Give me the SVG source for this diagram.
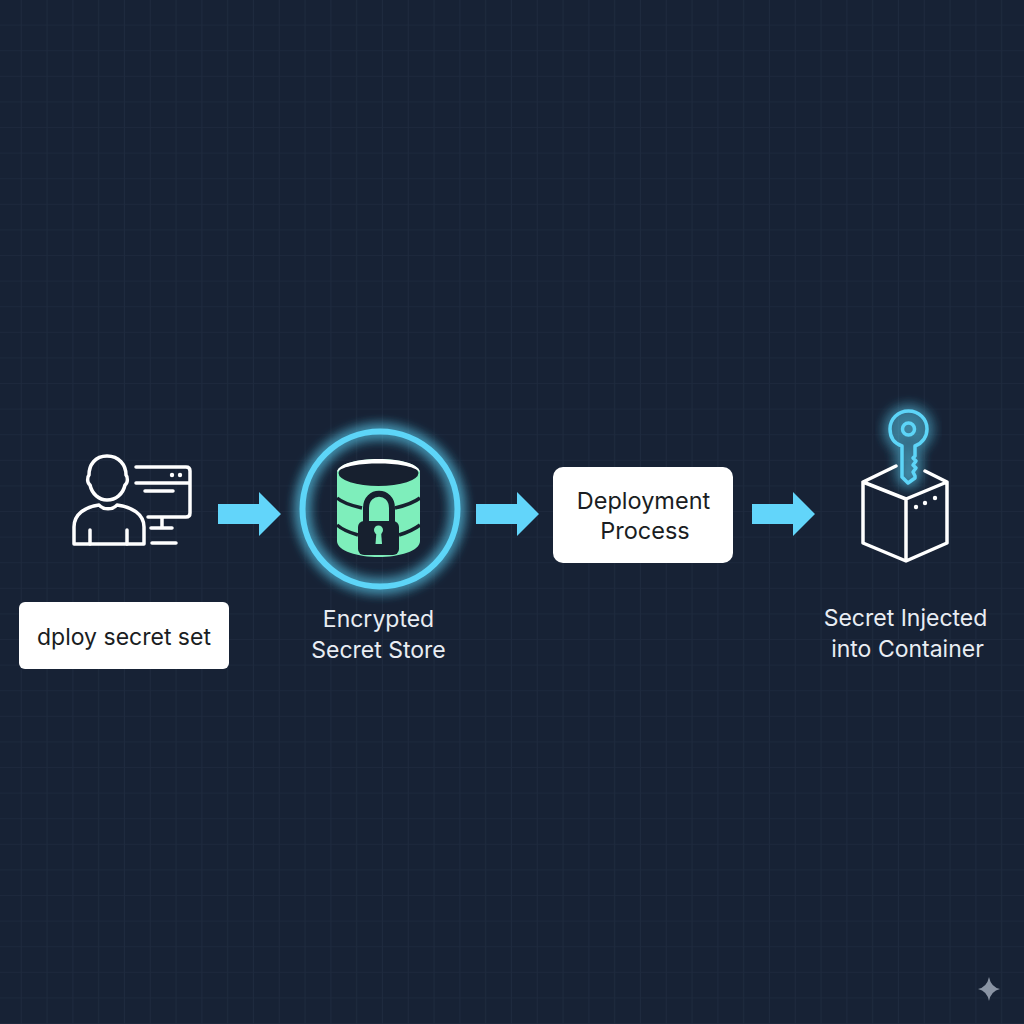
<svg xmlns="http://www.w3.org/2000/svg" width="1024" height="1024" viewBox="0 0 1024 1024">
<style>
.ln{fill:none;stroke:#fff;stroke-width:3.5;stroke-linecap:round;stroke-linejoin:round}
.box{fill:#fff}
.lbl{font-family:"Inter","Liberation Sans",sans-serif;font-size:23px;text-anchor:middle}
.lg{font-size:23.5px}
.dark{fill:#1a1d22}
.light{fill:#e9edf3}
.arrow{fill:#62d5fa}
</style>
<defs>
<pattern id="grid" x="-4" y="0" width="25.8" height="25.6" patternUnits="userSpaceOnUse">
<path d="M25.3 0V25.6M0 25.3H25.8" fill="none" stroke="#1e2a3e" stroke-width="1"/>
</pattern>
<filter id="glow" x="-40%" y="-40%" width="180%" height="180%"><feGaussianBlur stdDeviation="7" result="b"/><feMerge><feMergeNode in="b"/><feMergeNode in="b"/><feMergeNode in="SourceGraphic"/></feMerge></filter>
<path id="arr" d="M0 -10H41V-22L63 0L41 22V10H0Z"/>
</defs>
<rect width="1024" height="1024" fill="#172235"/>
<rect width="1024" height="1024" fill="url(#grid)"/>
<g id="connectors" class="arrow">
<use href="#arr" x="218" y="514"/>
<use href="#arr" x="476" y="514"/>
<use href="#arr" x="752" y="514"/>
</g>
<g id="node-user">
<path class="ln" d="M107 456C95 456 89 465 89 475C87 477 87 483 90 485C92 494 99 500 107 500C116 500 123 494 125 485C128 483 128 477 126 475C126 465 119 456 107 456Z"/>
<path class="ln" d="M74 544V527C74 514 85 507 99 505C103 510 113 510 117 505C132 507 144 514 144 527V544Z"/>
<path class="ln" d="M90 530V544M127 530V544"/>
<path class="ln" d="M136 467H186Q190 467 190 471V513Q190 517 186 517H148M136 483H190M145 491H173M162 517V528M151 528H172M152 543H176"/>
<circle cx="172" cy="475" r="2.2" fill="#fff"/><circle cx="180" cy="475" r="2.2" fill="#fff"/>
<rect class="box" x="19" y="602" width="210" height="67" rx="6"/>
<text class="lbl dark" x="124" y="645">dploy secret set</text>
</g>
<g id="node-store">
<circle cx="380" cy="509" r="77.5" fill="none" stroke="#5dd5f8" stroke-width="6" filter="url(#glow)"/>
<path d="M337 473C337 464 358 459 378.500 459C399 459 420 464 420 473V541C420 551 399 557 378.500 557C358 557 337 551 337 541Z" fill="#7eeebb"/>
<ellipse cx="378.500" cy="473" rx="40" ry="13" fill="#17202f"/>
<path d="M337 472C339 463 358 459 378.500 459C399 459 418 463 420 472C414 466 396 463.500 378.500 463.500C361 463.500 343 466 337 472Z" fill="#fff"/>
<path d="M337 498Q344 504 362 508M395 508Q412 504 420 498M337 525Q344 531 358 535M399 535Q412 531 420 525" fill="none" stroke="#17202f" stroke-width="3.500"/>
<path d="M366 524V508C366 489 392 489 392 508V524" fill="#7eeebb" stroke="#17202f" stroke-width="6"/>
<rect x="358" y="521" width="41" height="34" rx="6" fill="#17202f"/>
<circle cx="378.500" cy="530" r="4.500" fill="#7eeebb"/>
<path d="M376.500 531H381L382 544H375.500Z" fill="#7eeebb"/>
<text class="lbl light" x="378.500" y="627">Encrypted</text>
<text class="lbl light" x="378.500" y="658">Secret Store</text>
</g>
<g id="node-deploy">
<rect class="box" x="553" y="467" width="180" height="96" rx="10"/>
<text class="lbl lg dark" x="643.500" y="509">Deployment</text>
<text class="lbl lg dark" x="645" y="539">Process</text>
</g>
<g id="node-container">
<g fill="none" stroke="#5dd5f8" stroke-width="3.500" stroke-linejoin="round" filter="url(#glow)">
<path d="M902 446C893 443 890 436 890 429C890 419 898 411 908.500 411C919 411 927 419 927 429C927 436 923 443 915 446V456L913 458L916 461L913 465L916 468L913 472L915 476V478L908 483L902 477Z"/>
<circle cx="908.500" cy="429" r="6"/>
</g>
<path class="ln" d="M896 466L863 482L906 499L947 482L925 471M863 482V543L906 561L947 543V482M906 499V561"/>
<circle cx="916" cy="507" r="2.200" fill="#fff"/><circle cx="925" cy="503" r="2.200" fill="#fff"/><circle cx="935" cy="498" r="2.200" fill="#fff"/>
<text class="lbl light" x="905.500" y="626">Secret Injected</text>
<text class="lbl light" x="907.500" y="657">into Container</text>
</g>
<path id="sparkle" d="M989 977Q991 987 1000 989Q991 991 989 1001Q987 991 978 989Q987 987 989 977Z" fill="#8a94a4"/>
</svg>
